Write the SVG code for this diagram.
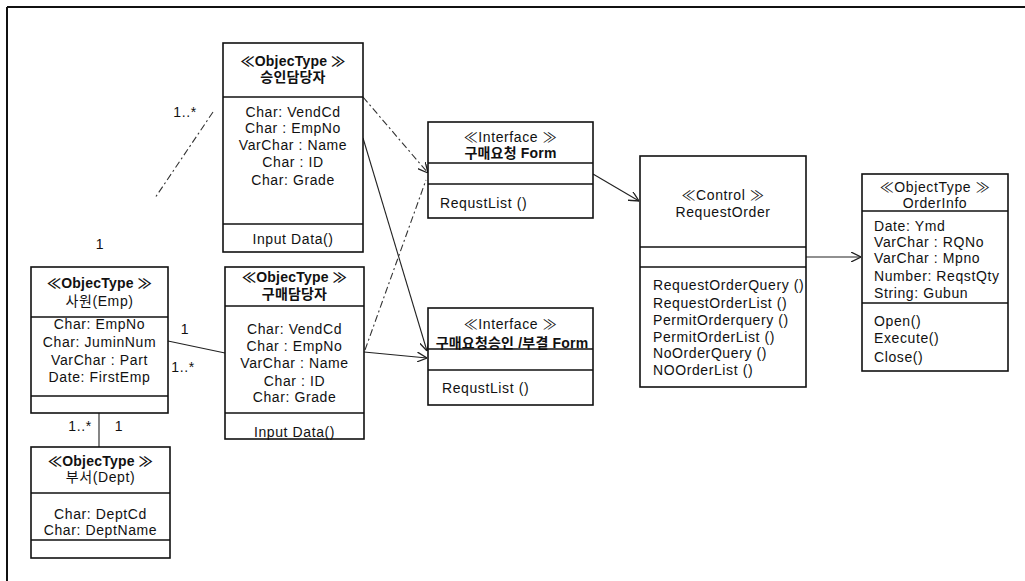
<svg xmlns="http://www.w3.org/2000/svg" width="1025" height="581" viewBox="0 0 1025 581">
<defs>
<style>
text{font-family:"Liberation Sans","Noto Sans CJK KR",Arial,sans-serif;font-size:14px;fill:#111;letter-spacing:0.6px;}
.c{text-anchor:middle;}
.h{font-weight:bold;letter-spacing:0.2px;}
.box{fill:#fff;stroke:#111;stroke-width:1.6;}
.sep{stroke:#111;stroke-width:1.6;}
.ln{fill:none;stroke:#222;stroke-width:1.1;}
.dash{fill:none;stroke:#333;stroke-width:1.1;stroke-dasharray:7 3 2 3;}
</style>
<marker id="arr" viewBox="0 0 10 10" refX="10" refY="5" markerWidth="10" markerHeight="10" markerUnits="userSpaceOnUse" orient="auto">
<path d="M0,0 L10,5 L0,10" fill="none" stroke="#222" stroke-width="1.3"/>
</marker>
</defs>
<rect width="1025" height="581" fill="#fff"/>
<g id="frame">
<line x1="7" y1="7" x2="1025" y2="7" stroke="#111" stroke-width="2"/>
<line x1="7" y1="7" x2="7" y2="581" stroke="#111" stroke-width="2"/>
</g>
<g id="connectors">
<line class="dash" x1="213" y1="112" x2="155" y2="198"/>
<line class="dash" x1="363" y1="97" x2="428" y2="173" marker-end="url(#arr)"/>
<line class="ln" x1="363" y1="138" x2="427" y2="351" marker-end="url(#arr)"/>
<line class="dash" x1="365" y1="350" x2="426" y2="180"/>
<line class="ln" x1="364" y1="352" x2="427" y2="358" marker-end="url(#arr)"/>
<line class="ln" x1="168" y1="341" x2="225" y2="353"/>
<line class="ln" x1="99" y1="413" x2="99" y2="447"/>
<line class="ln" x1="593" y1="174" x2="639" y2="201" marker-end="url(#arr)"/>
<line class="ln" x1="806" y1="257" x2="861" y2="257" marker-end="url(#arr)"/>
<text class="c" x="185" y="117">1..*</text>
<text class="c" x="100" y="249">1</text>
<text class="c" x="185" y="334">1</text>
<text class="c" x="183" y="372">1..*</text>
<text class="c" x="80" y="431">1..*</text>
<text class="c" x="119" y="431">1</text>
</g>
<g id="node-approver">
<rect class="box" x="223" y="43" width="140" height="209"/>
<line class="sep" x1="223" y1="97" x2="363" y2="97"/>
<line class="sep" x1="223" y1="224" x2="363" y2="224"/>
<text class="c h" x="293" y="66">≪ObjecType ≫</text>
<text class="c h" x="293" y="82">승인담당자</text>
<text class="c" x="293" y="117">Char: VendCd</text>
<text class="c" x="293" y="133">Char : EmpNo</text>
<text class="c" x="293" y="150">VarChar : Name</text>
<text class="c" x="293" y="167">Char : ID</text>
<text class="c" x="293" y="185">Char: Grade</text>
<text class="c" x="293" y="244">Input Data()</text>
</g>
<g id="node-emp">
<rect class="box" x="31" y="267" width="137" height="146"/>
<line class="sep" x1="31" y1="317" x2="168" y2="317"/>
<line class="sep" x1="31" y1="396" x2="168" y2="396"/>
<text class="c h" x="99.5" y="288">≪ObjecType ≫</text>
<text class="c" x="99.5" y="306">사원(Emp)</text>
<text class="c" x="99.5" y="329">Char: EmpNo</text>
<text class="c" x="99.5" y="347">Char: JuminNum</text>
<text class="c" x="99.5" y="365">VarChar : Part</text>
<text class="c" x="99.5" y="382">Date: FirstEmp</text>
</g>
<g id="node-buyer">
<rect class="box" x="225" y="267" width="139" height="172"/>
<line class="sep" x1="225" y1="306" x2="364" y2="306"/>
<line class="sep" x1="225" y1="413" x2="364" y2="413"/>
<text class="c h" x="294.5" y="282">≪ObjecType ≫</text>
<text class="c h" x="294.5" y="299">구매담당자</text>
<text class="c" x="294.5" y="334">Char: VendCd</text>
<text class="c" x="294.5" y="351">Char : EmpNo</text>
<text class="c" x="294.5" y="368">VarChar : Name</text>
<text class="c" x="294.5" y="386">Char : ID</text>
<text class="c" x="294.5" y="402">Char: Grade</text>
<text class="c" x="294.5" y="437">Input Data()</text>
</g>
<g id="node-dept">
<rect class="box" x="31" y="447" width="139" height="111"/>
<line class="sep" x1="31" y1="493" x2="170" y2="493"/>
<line class="sep" x1="31" y1="540" x2="170" y2="540"/>
<text class="c h" x="100.5" y="466">≪ObjecType ≫</text>
<text class="c" x="100.5" y="482">부서(Dept)</text>
<text class="c" x="100.5" y="519">Char: DeptCd</text>
<text class="c" x="100.5" y="535">Char: DeptName</text>
</g>
<g id="node-form1">
<rect class="box" x="428" y="122" width="165" height="96"/>
<line class="sep" x1="428" y1="163" x2="593" y2="163"/>
<line class="sep" x1="428" y1="184" x2="593" y2="184"/>
<text class="c" x="510.5" y="142">≪Interface ≫</text>
<text class="c h" x="510.5" y="158">구매요청 Form</text>
<text x="440" y="208">RequstList ()</text>
</g>
<g id="node-form2">
<rect class="box" x="428" y="308" width="165" height="97"/>
<line class="sep" x1="428" y1="349" x2="593" y2="349"/>
<line class="sep" x1="428" y1="370" x2="593" y2="370"/>
<text class="c" x="510.5" y="329">≪Interface ≫</text>
<text class="c h" x="512" y="348">구매요청승인 /부결 Form</text>
<text x="442" y="393">RequstList ()</text>
</g>
<g id="node-control">
<rect class="box" x="640" y="156" width="166" height="231"/>
<line class="sep" x1="640" y1="247" x2="806" y2="247"/>
<line class="sep" x1="640" y1="267" x2="806" y2="267"/>
<text class="c" x="723" y="200">≪Control ≫</text>
<text class="c" x="723" y="217">RequestOrder</text>
<text x="653" y="290">RequestOrderQuery ()</text>
<text x="653" y="308">RequestOrderList ()</text>
<text x="653" y="325">PermitOrderquery ()</text>
<text x="653" y="342">PermitOrderList ()</text>
<text x="653" y="358">NoOrderQuery ()</text>
<text x="653" y="375">NOOrderList ()</text>
</g>
<g id="node-orderinfo">
<rect class="box" x="862" y="174" width="146" height="197"/>
<line class="sep" x1="862" y1="211" x2="1008" y2="211"/>
<line class="sep" x1="862" y1="303" x2="1008" y2="303"/>
<text class="c" x="935" y="192">≪ObjectType ≫</text>
<text class="c" x="935" y="208">OrderInfo</text>
<text x="874" y="231">Date: Ymd</text>
<text x="874" y="247">VarChar : RQNo</text>
<text x="874" y="263">VarChar : Mpno</text>
<text x="874" y="281">Number: ReqstQty</text>
<text x="874" y="298">String: Gubun</text>
<text x="874" y="326">Open()</text>
<text x="874" y="343">Execute()</text>
<text x="874" y="362">Close()</text>
</g>
</svg>
